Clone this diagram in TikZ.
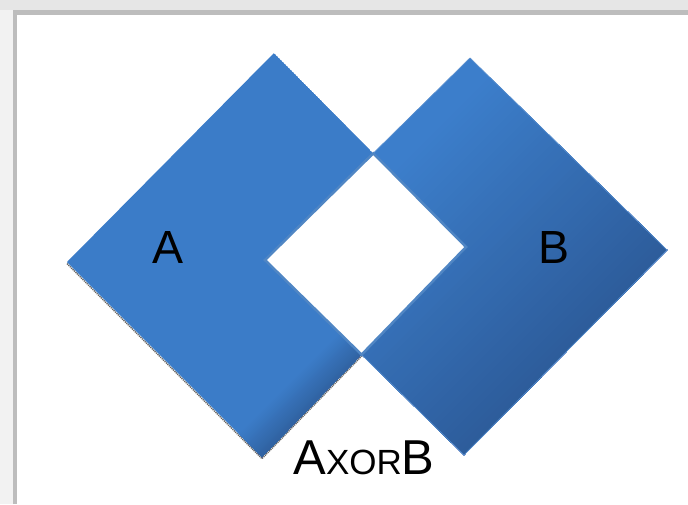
\documentclass[tikz,border=0pt]{standalone}
\usepackage{fontspec}
\setmainfont{Liberation Sans}
\definecolor{ablue}{RGB}{59,124,200}
\definecolor{adark}{RGB}{44,88,146}
\definecolor{blight}{RGB}{60,126,203}
\definecolor{bdark}{RGB}{45,92,154}
\definecolor{rimblue}{RGB}{80,134,196}
\definecolor{edgeblue}{RGB}{88,142,206}
\definecolor{framegray}{RGB}{189,189,189}
\definecolor{bandgray}{RGB}{230,230,230}
\begin{document}
\begin{tikzpicture}[x=1pt,y=-1pt,
  lbl/.style={inner sep=0pt, font=\fontsize{46.5}{46.5}\selectfont, text=black}]
\useasboundingbox (0,0) rectangle (688,504);
% background and frame
\fill[white] (0,0) rectangle (688,504);
\fill[bandgray] (0,0) rectangle (688,9.5);
\fill[white!95!black] (0,9.5) rectangle (12.7,504);
\fill[framegray] (12.7,9.5) rectangle (688,15);
\fill[framegray] (12.7,9.5) rectangle (17.3,504);
% corner points
\coordinate (At) at (274,53);
\coordinate (Al) at (67,262);
\coordinate (Ab) at (262,457);
\coordinate (Ar) at (466,247);
\coordinate (Bt) at (470,58);
\coordinate (Br) at (667,250);
\coordinate (Bb) at (464,455);
\coordinate (Bl) at (265,260);
\coordinate (It) at (intersection of At--Ar and Bt--Bl);
\coordinate (Ib) at (intersection of Ab--Ar and Bl--Bb);
% shadow of A
\draw[black!60, line width=1.4, dash pattern=on 1.2pt off 0.8pt]
  ([shift={(0,1.6)}]Al) -- ([shift={(0,1.6)}]Ab) -- ([shift={(0,1.6)}]Ar);
% diamond A
\begin{scope}
\clip (At)--(Ar)--(Ab)--(Al)--cycle;
\fill[ablue] (At)--(Ar)--(Ab)--(Al)--cycle;
\foreach \k in {0,...,24}{
  \pgfmathsetmacro\c{672+\k*1.9}
  \pgfmathtruncatemacro\p{\k*3}
  \fill[adark!\p!ablue] (\c+200,-200) -- (2000,-200) -- (2000,2000) -- (\c-800,2000) -- (\c-800,800) -- cycle;
}
\end{scope}
% diamond B
\begin{scope}
\clip (Bt)--(Br)--(Bb)--(Bl)--cycle;
\fill[blight] (Bt)--(Br)--(Bb)--(Bl)--cycle;
\foreach \k in {0,...,49}{
  \pgfmathsetmacro\c{560+\k*7.2}
  \pgfmathtruncatemacro\p{\k*2}
  \fill[bdark!\p!blight] (\c+200,-200) -- (2000,-200) -- (2000,2000) -- (\c-800,2000) -- (\c-800,800) -- cycle;
}
\end{scope}
\draw[edgeblue, line width=0.7] (Bt)--(Br)--(Bb)--(Bl)--cycle;
% overlap (white)
\filldraw[fill=white, draw=rimblue, line width=2.5, line join=miter] (It)--(Ar)--(Ib)--(Bl)--cycle;
% labels
\node[lbl] (la) at (168.5,247.5) {A};
\node[lbl] (lb) at (554,247) {B};
\node[lbl, anchor=base, font=\fontsize{49}{49}\selectfont] (lx) at (364,474) {A{\fontsize{35}{35}\selectfont XOR}B};
\end{tikzpicture}
\end{document}
